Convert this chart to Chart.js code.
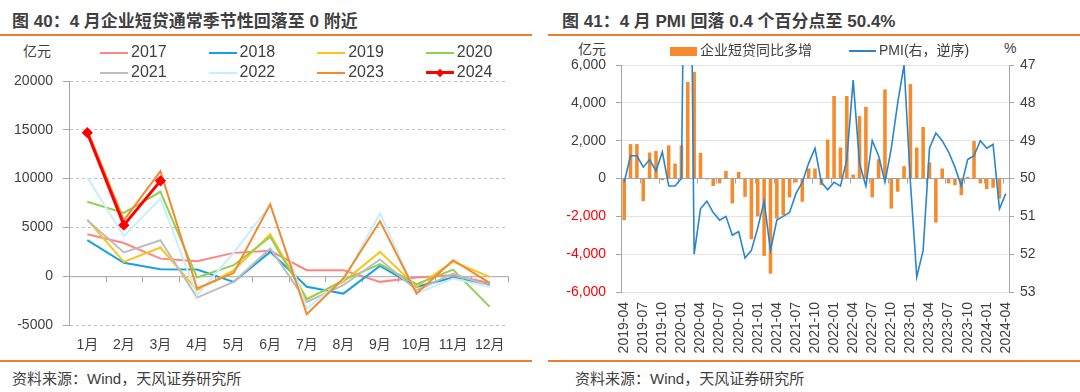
<!DOCTYPE html>
<html>
<head>
<meta charset="utf-8">
<script src="https://cdn.jsdelivr.net/npm/chart.js@4.4.0/dist/chart.umd.min.js"></script>
<style>
  body { margin:0; width:1080px; height:392px; background:#fff; position:relative; overflow:hidden;
         font-family:"Liberation Sans","Noto Sans CJK SC",sans-serif; color:#404040; }
  .abs { position:absolute; white-space:nowrap; }
  .title { font-family:"Liberation Sans","Noto Sans CJK SC",sans-serif; font-weight:bold; font-size:17px; line-height:24px; top:10px; color:#3f3f3f; }
  .rule { position:absolute; height:2px; background:#ed7d31; }
  .src { font-size:15px; line-height:20px; top:369px; }
  .unit { font-size:14px; line-height:18px; }
  .lg { position:absolute; font-size:16px; line-height:20px; white-space:nowrap; }
  .sw { display:inline-block; vertical-align:middle; position:relative; margin-right:3px; }
  canvas { position:absolute; top:0; }
</style>
</head>
<body>

<div class="abs title" style="left:12px">图 40：4 月企业短贷通常季节性回落至 0 附近</div>
<div class="abs title" style="left:562px">图 41：4 月 PMI 回落 0.4 个百分点至 50.4%</div>
<div class="rule" style="left:0;width:532px;top:34px"></div>
<div class="rule" style="left:548px;width:532px;top:34px"></div>
<div class="rule" style="left:0;width:532px;top:360px"></div>
<div class="rule" style="left:548px;width:532px;top:360px"></div>
<div class="abs src" style="left:12px">资料来源：Wind，天风证券研究所</div>
<div class="abs src" style="left:575px">资料来源：Wind，天风证券研究所</div>

<div class="abs unit" style="left:23px;top:42px">亿元</div>
<div class="abs unit" style="left:578px;top:40px">亿元</div>
<div class="abs unit" style="left:1004px;top:39px">%</div>

<canvas id="c1" width="540" height="360" style="left:0"></canvas>
<canvas id="c2" width="535" height="360" style="left:545px"></canvas>
<div id="legend1"></div>
<div id="legend2"></div>

<script>
// 图40 企业短贷 逐月新增（亿元）
const months = ['1月','2月','3月','4月','5月','6月','7月','8月','9月','10月','11月','12月'];
const years = ['2017','2018','2019','2020','2021','2022','2023','2024'];
const colors = ['#ff8585','#13a3e3','#ffc21a','#92d050','#bdbdbd','#c9eefb','#f28a2e','#ff0000'];

const v2017 = [4300, 3400, 1800, 1540, 2390, 2600, 620, 620, -580, -140, 100, -700];
const v2018 = [3700, 1370, 720, 680, -580, 2490, -1090, -1780, 1060, -1090, -140, -920];
const v2019 = [5800, 1470, 2940, -1430, 600, 4300, -2290, -580, 2490, -1090, 1500, -70];
const v2020 = [7620, 6490, 8650, -140, 1130, 4030, -2390, -410, 1230, -820, 680, -3140];
const v2021 = [5740, 2430, 3690, -2190, -580, 2840, -2630, -920, 1710, -1430, 270, -1030];
const v2022 = [10100, 4100, 7960, -1950, 2400, 7280, -3300, -400, 6430, -1780, -240, -1090];
const v2023 = [15000, 5740, 10770, -1260, 340, 7380, -3900, -240, 5640, -1780, 1640, -680];
const v2024 = [14700, 5230, 9770];
const yTicks1 = [-5000, 0, 5000, 10000, 15000, 20000];

// 图41 企业短贷同比多增（亿元） & PMI
const ymLabels = [
  '2019-04','2019-05','2019-06','2019-07','2019-08','2019-09','2019-10','2019-11','2019-12',
  '2020-01','2020-02','2020-03','2020-04','2020-05','2020-06','2020-07','2020-08','2020-09','2020-10','2020-11','2020-12',
  '2021-01','2021-02','2021-03','2021-04','2021-05','2021-06','2021-07','2021-08','2021-09','2021-10','2021-11','2021-12',
  '2022-01','2022-02','2022-03','2022-04','2022-05','2022-06','2022-07','2022-08','2022-09','2022-10','2022-11','2022-12',
  '2023-01','2023-02','2023-03','2023-04','2023-05','2023-06','2023-07','2023-08','2023-09','2023-10','2023-11','2023-12',
  '2024-01','2024-02','2024-03','2024-04'
];
const loanYoY = [
  -2200, 1820, 1820, -1200, 1375, 1460, -90, 1750, 790,
  1750, 5100, 5640, 1360, -50, -400, -260, 400, -1320, 350, -970, -3210,
  -2000, -4090, -5030, -2120, -1940, -1000, -210, -1230, 530, 530, -350, 2060,
  4360, 1640, 4360, 210, 3300, 3790, -1000, 1020, 4710, -1590, -700, 650,
  4990, 1640, 2730, 850, -2330, 530, -260, -350, -880, 90, 1980, -260,
  -560, -490, -1060, null
];
const pmi = [
  50.1, 49.4, 49.4, 49.7, 49.5, 49.8, 49.3, 50.2, 50.2,
  50.0, 35.7, 52.0, 50.8, 50.6, 50.9, 51.1, 51.0, 51.5, 51.4, 52.1, 51.9,
  51.3, 50.6, 51.9, 51.1, 51.0, 50.9, 50.4, 50.1, 49.6, 49.2, 50.1, 50.3,
  50.1, 50.2, 49.5, 47.4, 49.6, 50.2, 49.0, 49.4, 50.1, 49.2, 48.0, 47.0,
  50.1, 52.6, 51.9, 49.2, 48.8, 49.0, 49.3, 49.7, 50.2, 49.5, 49.4, 49.0,
  49.2, 49.1, 50.8, 50.4
];

Chart.defaults.font.family = '"Liberation Sans","Noto Sans CJK SC",sans-serif';
Chart.defaults.font.size = 14;
Chart.defaults.color = '#404040';
Chart.defaults.animation = false;

const series1 = [v2017, v2018, v2019, v2020, v2021, v2022, v2023, v2024];

// ---- left chart ----
const ds1 = years.map((y, i) => {
  const is24 = y === '2024';
  return {
    label: y,
    data: series1[i],
    borderColor: colors[i],
    backgroundColor: colors[i],
    borderWidth: is24 ? 3 : 2,
    pointRadius: is24 ? 3.5 : 0,
    pointStyle: 'rectRot',
    tension: 0,
    order: years.length - 1 - i
  };
});

const zeroLine1 = {
  id: 'zeroLine1',
  beforeDatasetsDraw(chart) {
    const {ctx, chartArea, scales} = chart;
    const y0 = scales.y.getPixelForValue(0);
    const n = months.length;
    const w = (chartArea.right - chartArea.left) / n;
    ctx.save();
    ctx.strokeStyle = '#a6a6a6';
    ctx.lineWidth = 1;
    ctx.beginPath();
    ctx.moveTo(chartArea.left, y0 + 0.5);
    ctx.lineTo(chartArea.right, y0 + 0.5);
    for (let i = 1; i <= n; i++) {
      const x = Math.round(chartArea.left + i * w) + 0.5;
      ctx.moveTo(x, y0);
      ctx.lineTo(x, y0 + 6);
    }
    ctx.stroke();
    ctx.restore();
  }
};

new Chart(document.getElementById('c1'), {
  type: 'line',
  data: { labels: months, datasets: ds1 },
  options: {
    responsive: false,
    layout: { padding: { top: 81, left: 0, right: 32, bottom: 0 } },
    plugins: { legend: { display: false }, tooltip: { enabled: false } },
    scales: {
      x: {
        offset: true,
        grid: { display: false, drawTicks: false },
        border: { display: false },
        ticks: { padding: 12, color: '#404040', font: { size: 14 } },
        afterFit: s => { s.height = 35; }
      },
      y: {
        min: -5000, max: 20000,
        afterBuildTicks: s => { s.ticks = yTicks1.map(v => ({ value: v })); },
        grid: {
          color: c => c.tick.value === 0 ? 'rgba(0,0,0,0)' : '#bfbfbf',
          tickColor: '#a6a6a6', tickLength: 6
        },
        border: { display: true, color: '#a6a6a6', dash: [3, 3] },
        ticks: { padding: 10, color: '#404040', callback: v => String(v) },
        afterFit: s => { s.width = 69; }
      }
    }
  },
  plugins: [zeroLine1]
});

// left legend (4 columns x 2 rows)
const lg1 = document.getElementById('legend1');
ds1.forEach((d, i) => {
  const col = i % 4, row = Math.floor(i / 4);
  const item = document.createElement('div');
  item.className = 'lg';
  item.style.left = (100 + col * 108.6) + 'px';
  item.style.top = (42 + row * 20) + 'px';
  const sw = document.createElement('span');
  sw.className = 'sw';
  sw.style.width = '28px';
  sw.style.height = d.borderWidth + 'px';
  sw.style.background = d.borderColor;
  if (d.pointRadius) {
    const dia = document.createElement('span');
    dia.style.cssText = 'position:absolute;left:11px;top:' + (d.borderWidth / 2 - 3) + 'px;width:6px;height:6px;transform:rotate(45deg);background:' + d.borderColor;
    sw.appendChild(dia);
  }
  item.appendChild(sw);
  item.appendChild(document.createTextNode(d.label));
  lg1.appendChild(item);
});

// ---- right chart ----
const zeroTicks2 = {
  id: 'zeroTicks2',
  beforeDatasetsDraw(chart) {
    const {ctx, chartArea, scales} = chart;
    const y0 = scales.y.getPixelForValue(0);
    const n = ymLabels.length;
    const w = (chartArea.right - chartArea.left) / n;
    ctx.save();
    ctx.strokeStyle = '#a6a6a6';
    ctx.lineWidth = 1;
    ctx.beginPath();
    for (let i = 3; i < n; i += 3) {
      const x = Math.round(chartArea.left + i * w) + 0.5;
      ctx.moveTo(x, y0);
      ctx.lineTo(x, y0 + 5);
    }
    ctx.stroke();
    ctx.restore();
  }
};

new Chart(document.getElementById('c2'), {
  type: 'bar',
  data: {
    labels: ymLabels,
    datasets: [
      {
        type: 'line', label: 'PMI(右，逆序)', data: pmi, yAxisID: 'y1',
        borderColor: '#2b85cc', backgroundColor: '#2b85cc', borderWidth: 1.6,
        pointRadius: 0, tension: 0, order: 0
      },
      {
        type: 'bar', label: '企业短贷同比多增', data: loanYoY, yAxisID: 'y',
        backgroundColor: '#f58b2c', barPercentage: 0.56, categoryPercentage: 1, order: 1
      }
    ]
  },
  options: {
    responsive: false,
    layout: { padding: { top: 65, left: 0, right: 31, bottom: 0 } },
    plugins: { legend: { display: false }, tooltip: { enabled: false } },
    scales: {
      x: {
        grid: { display: false, drawTicks: false },
        border: { display: false },
        ticks: {
          autoSkip: false, maxRotation: 90, minRotation: 90, padding: 10,
          color: '#404040', font: { size: 14 },
          callback: (v, i) => i % 3 === 0 ? ymLabels[i] : ''
        },
        afterFit: s => { s.height = 68; }
      },
      y: {
        position: 'left', min: -6000, max: 6000,
        ticks: {
          stepSize: 2000, padding: 10,
          color: c => c.tick.value < 0 ? '#ff0000' : '#404040',
          callback: v => v.toLocaleString('en-US')
        },
        grid: {
          color: c => c.tick.value === 0 ? '#a6a6a6' : '#e3e3e3',
          tickColor: '#a6a6a6', tickLength: 5
        },
        border: { display: true, color: '#a6a6a6' },
        afterFit: s => { s.width = 76; }
      },
      y1: {
        position: 'right', reverse: true, min: 47, max: 53,
        ticks: { stepSize: 1, padding: 6, color: '#404040' },
        grid: { drawOnChartArea: false, tickColor: '#a6a6a6', tickLength: 5 },
        border: { display: true, color: '#a6a6a6' },
        afterFit: s => { s.width = 40; }
      }
    }
  },
  plugins: [zeroTicks2]
});

// right legend
const lg2 = document.getElementById('legend2');
lg2.innerHTML =
  '<div class="lg" style="left:670px;top:40px;font-size:14px">' +
  '<span class="sw" style="width:27px;height:9px;background:#f58b2c"></span>企业短贷同比多增</div>' +
  '<div class="lg" style="left:849px;top:40px;font-size:14px">' +
  '<span class="sw" style="width:27px;height:2px;background:#2b85cc"></span>PMI(右，逆序)</div>';
</script>
</body>
</html>
